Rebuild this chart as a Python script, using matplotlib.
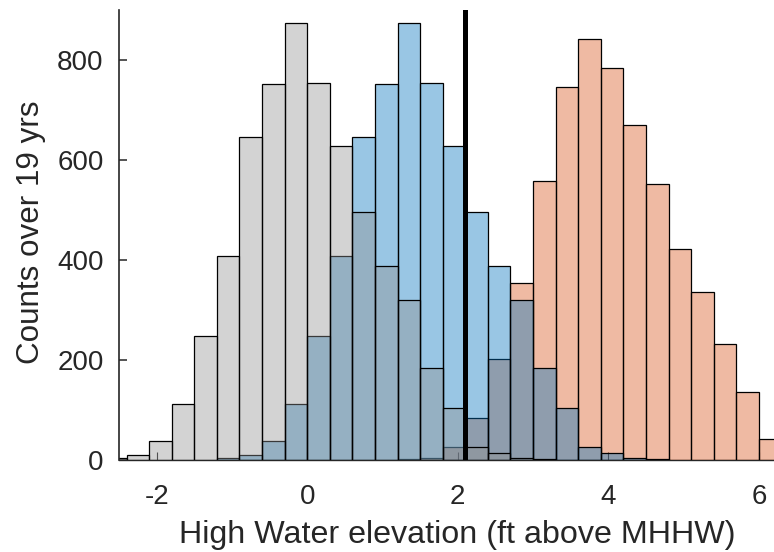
import numpy as np
import matplotlib
matplotlib.use("Agg")
import matplotlib.pyplot as plt

plt.rcParams['font.family'] = ['Liberation Sans', 'DejaVu Sans']
plt.rcParams['axes.unicode_minus'] = False

# Common histogram grid (ft above MHHW), 0.3 ft bins
bin_width = 0.3
bin_left = np.round(np.arange(-2.7, 6.01, bin_width), 2)

# Counts over 19 years for each scenario
counts_present = [5, 10, 39, 113, 249, 409, 647, 753, 874, 755, 629, 497, 389, 320, 184,
                  105, 27, 15, 4, 2, 0, 0, 0, 0, 0, 0, 0, 0, 0, 0]
counts_mid = [0, 0, 0, 0, 0, 5, 10, 39, 113, 249, 409, 647, 753, 874, 755,
              629, 497, 389, 320, 184, 105, 27, 15, 4, 2, 0, 0, 0, 0, 0]
counts_high = [0, 0, 0, 0, 0, 0, 0, 0, 0, 0, 0, 0, 0, 2, 5,
               27, 84, 203, 355, 559, 746, 842, 785, 670, 553, 423, 336, 232, 137, 42]

threshold = 2.1

x_ticks = [-2, 0, 2, 4, 6]
y_ticks = [0, 200, 400, 600, 800]

axis_color = (0.15, 0.15, 0.15)

fig = plt.figure(figsize=(7.74, 5.52), dpi=100)
ax = fig.add_axes([119 / 774, 92 / 552, 1 - 119 / 774, 450 / 552])


def draw_hist(counts, rgb, z):
    counts = np.asarray(counts, dtype=float)
    keep = counts > 0
    ax.bar(bin_left[keep], counts[keep], width=bin_width, align='edge',
           facecolor=(*rgb, 0.4), edgecolor='black', linewidth=0.9, zorder=z)


draw_hist(counts_high, (0.85, 0.325, 0.098), 1)
draw_hist(counts_mid, (0.0, 0.447, 0.741), 2)
draw_hist(counts_present, (0.57, 0.57, 0.57), 3)

ax.axvline(threshold, color='black', linewidth=3.6, zorder=5)

ax.set_xlim(-2.5, 6.2)
ax.set_ylim(0, 900)
ax.set_xticks(x_ticks)
ax.set_yticks(y_ticks)

for side in ('top', 'right'):
    ax.spines[side].set_visible(False)
ax.spines['left'].set_color(axis_color)
ax.spines['left'].set_linewidth(1.2)
ax.spines['left'].set_zorder(6)
ax.spines['bottom'].set_color(axis_color)
ax.spines['bottom'].set_linewidth(1.0)
ax.spines['bottom'].set_zorder(0.5)
ax.set_axisbelow(True)

ax.tick_params(axis='both', direction='in', colors=axis_color, labelsize=20)
ax.tick_params(axis='x', length=5.5, width=0.8, pad=17.3)
ax.tick_params(axis='y', length=6, width=1.1, pad=11)

ax.set_xlabel('High Water elevation (ft above MHHW)', fontsize=23.2, color=axis_color)
ax.set_ylabel('Counts over 19 yrs', fontsize=22.6, color=axis_color)
ax.xaxis.set_label_coords(0.516, -0.133)
ax.yaxis.set_label_coords(-0.112, 0.506)

fig.savefig('out.png', dpi=100)
